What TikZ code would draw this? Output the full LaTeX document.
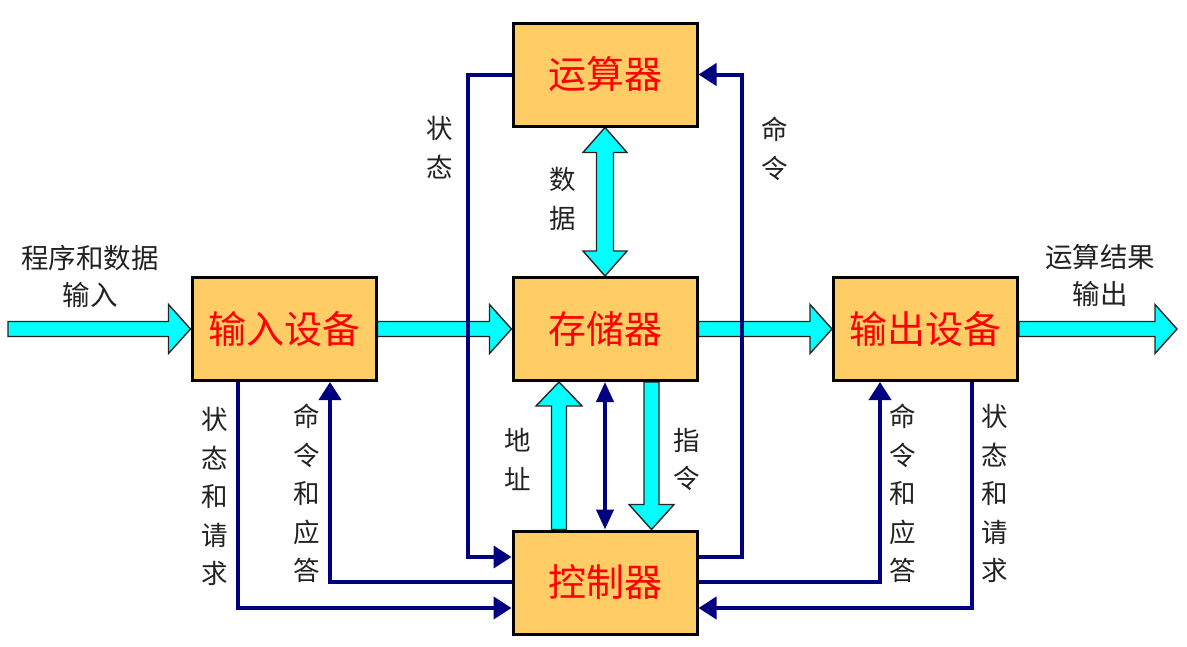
\documentclass[tikz,border=0pt]{standalone}
\usepackage{fontspec}
\newfontfamily\cjk{Noto Sans CJK SC}
\usetikzlibrary{calc,arrows.meta}
\definecolor{boxfill}{HTML}{FFCC66}
\definecolor{navyline}{HTML}{000080}
\definecolor{cyanfill}{HTML}{00FFFF}
\definecolor{lbl}{HTML}{222222}
\pgfdeclarelayer{background}
\pgfsetlayers{background,main}
\tikzset{
  unit/.style={draw=black, line width=3pt, fill=boxfill, minimum width=184pt, minimum height=103pt,
    inner sep=0pt, font=\cjk\fontsize{38}{42}\selectfont, text=red},
  fat/.style={draw=black!85, line width=1.4pt, fill=cyanfill, line join=miter},
  navbase/.style={draw=navyline, line width=4pt, line join=miter},
  nav/.style={navbase, -{Triangle[length=18pt,width=22pt]}},
  lab/.style={font=\cjk\fontsize{27.5}{37}\selectfont, text=lbl, align=center, inner sep=0pt},
  vlab/.style={font=\cjk\fontsize{26.5}{38.5}\selectfont, text=lbl, align=center, inner sep=0pt},
}
% rightward fat arrow
\newcommand{\fatR}[2]{\draw[fat] let \p1=(#1), \p2=(#2) in
  (\x1,\y1+7.5pt) -- (\x2-22pt,\y1+7.5pt) -- (\x2-22pt,\y1+24.5pt) -- (\x2,\y1)
  -- (\x2-22pt,\y1-24.5pt) -- (\x2-22pt,\y1-7.5pt) -- (\x1,\y1-7.5pt) -- cycle;}
% upward fat arrow
\newcommand{\fatU}[2]{\draw[fat] let \p1=(#1), \p2=(#2) in
  (\x1-7.5pt,\y1) -- (\x1-7.5pt,\y2-24pt) -- (\x1-23pt,\y2-24pt) -- (\x1,\y2)
  -- (\x1+23pt,\y2-24pt) -- (\x1+7.5pt,\y2-24pt) -- (\x1+7.5pt,\y1) -- cycle;}
% downward fat arrow
\newcommand{\fatD}[2]{\draw[fat] let \p1=(#1), \p2=(#2) in
  (\x1-7.5pt,\y1) -- (\x1-7.5pt,\y2+25pt) -- (\x1-22.5pt,\y2+25pt) -- (\x1,\y2)
  -- (\x1+22.5pt,\y2+25pt) -- (\x1+7.5pt,\y2+25pt) -- (\x1+7.5pt,\y1) -- cycle;}
% vertical double fat arrow
\newcommand{\fatUD}[2]{\draw[fat] let \p1=(#1), \p2=(#2) in
  (\x1,\y1) -- (\x1+22pt,\y1-25pt) -- (\x1+8.5pt,\y1-25pt) -- (\x1+8.5pt,\y2+25pt)
  -- (\x1+22pt,\y2+25pt) -- (\x1,\y2) -- (\x1-22pt,\y2+25pt) -- (\x1-8.5pt,\y2+25pt)
  -- (\x1-8.5pt,\y1-25pt) -- (\x1-22pt,\y1-25pt) -- cycle;}
\begin{document}
\begin{tikzpicture}[x=1pt,y=-1pt]
\useasboundingbox (0,0) rectangle (1187,646);
% boxes
\node[unit] (alu) at (605,74.5) {运算器};
\node[unit] (mem) at (605,329) {存储器};
\node[unit] (ctrl) at (605,582.5) {控制器};
\node[unit] (inp) at (284,329) {输入设备};
\node[unit] (out) at (925.5,329) {输出设备};
% free ends and helper coordinates
\coordinate (src) at (8,329);
\coordinate (dst) at (1177,329);
\coordinate (yA) at (0,557);
\coordinate (yB) at (0,582);
\coordinate (yC) at (0,608);
\coordinate (xL) at (468,0);
\coordinate (xR) at (742,0);
% fat arrows
\begin{pgfonlayer}{background}
\fatR{src}{inp.west}
\fatR{inp.east}{mem.west}
\fatR{mem.east}{out.west}
\fatR{out.east}{dst}
\fatUD{alu.south}{mem.north}
\fatU{$(ctrl.north)+(-46,0)$}{$(mem.south)+(-46,0)$}
\fatD{$(mem.south)+(46.5,0)$}{$(ctrl.north)+(46.5,0)$}
\end{pgfonlayer}
% thin connectors
\draw[nav] (alu.west) -- (alu.west -| xL) -- (xL |- yA) -- (ctrl.west |- yA);
\draw[nav] (ctrl.east |- yA) -- (xR |- yA) -- (xR |- alu.east) -- (alu.east);
\draw[nav] (ctrl.west |- yB) -| ($(inp.south)+(46,0)$);
\draw[nav] ($(inp.south)+(-46,0)$) |- (ctrl.west |- yC);
\draw[nav] (ctrl.east |- yB) -| ($(out.south)+(-45.5,0)$);
\draw[nav] ($(out.south)+(46.5,0)$) |- (ctrl.east |- yC);
\draw[navbase, {Triangle[length=20pt,width=17pt]}-{Triangle[length=20pt,width=17pt]}] (mem.south) -- (ctrl.north);
% labels
\node[lab] (lin) at (90,276.5) {程序和数据\\输入};
\node[lab] (lout) at (1100,275) {运算结果\\输出};
\node[vlab] (lstat) at (440,147.5) {状\\态};
\node[vlab] (lcmd) at (775,149) {命\\令};
\node[vlab] (ldata) at (563,199) {数\\据};
\node[vlab] (laddr) at (518,459.5) {地\\址};
\node[vlab] (linst) at (687,459.5) {指\\令};
\node[vlab] (lsr1) at (215,496.5) {状\\态\\和\\请\\求};
\node[vlab] (lca1) at (307,493.5) {命\\令\\和\\应\\答};
\node[vlab] (lca2) at (903,493.5) {命\\令\\和\\应\\答};
\node[vlab] (lsr2) at (995,493.5) {状\\态\\和\\请\\求};
\end{tikzpicture}
\end{document}
